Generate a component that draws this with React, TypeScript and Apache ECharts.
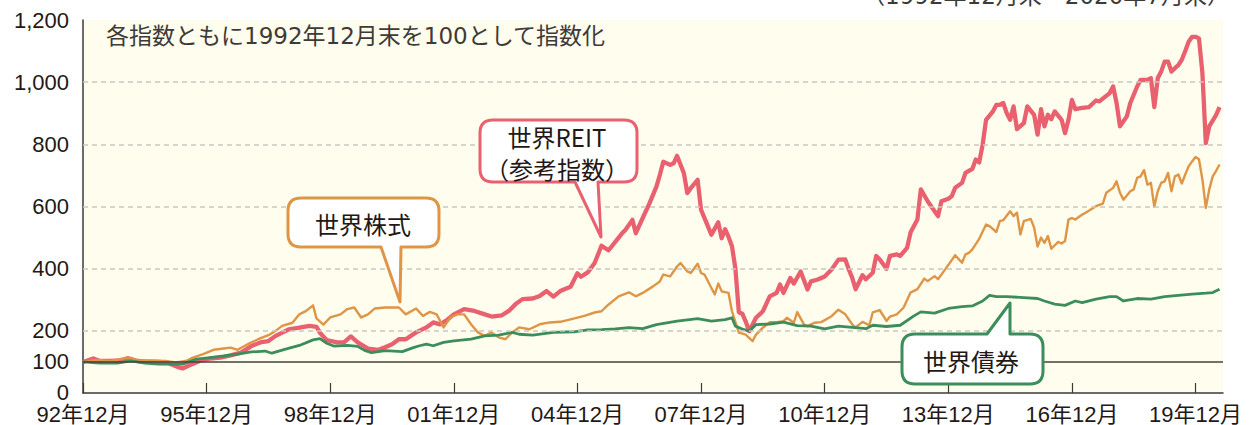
import React, { useEffect, useRef } from "react";
import * as echarts from "echarts";

// x axis: months elapsed since 1992年12月末
const tickMonths = [0, 36, 72, 108, 144, 180, 216, 252, 288, 324];
const yLabelValues = [0, 100, 200, 400, 600, 800, 1000, 1200];
const gridValues = [200, 400, 600, 800, 1000];
const baseValue = 100;

const reitMonths = [0, 3, 5, 8, 11, 13, 16, 19, 22, 25, 28, 29, 31, 34, 37, 40, 43, 46, 49, 52, 54, 56, 58, 60, 63, 66, 68, 69, 71, 74, 76, 78, 80, 83, 86, 88, 90, 92, 94, 97, 100, 102, 104, 106, 108, 111, 114, 117, 119, 122, 124, 126, 128, 131, 133, 135, 137, 139, 142, 144, 145, 147, 149, 151, 153, 154, 156, 157, 158, 160, 161, 163, 165, 167, 168, 169, 171, 172, 173, 175, 176, 177, 179, 180, 182, 183, 185, 186, 187, 188, 189, 190, 191, 192, 193, 194, 196, 198, 200, 202, 203, 204, 206, 207, 209, 211, 212, 214, 216, 218, 220, 222, 223, 224, 225, 227, 228, 230, 231, 232, 234, 235, 237, 238, 240, 241, 243, 244, 246, 247, 249, 250, 252, 253, 254, 256, 257, 259, 260, 261, 262, 263, 265, 266, 267, 268, 269, 270, 271, 272, 274, 275, 277, 278, 279, 280, 281, 282, 283, 285, 286, 287, 288, 289, 291, 293, 295, 296, 298, 299, 300, 301, 302, 304, 305, 307, 308, 310, 311, 312, 313, 314, 315, 316, 317, 318, 319, 320, 321, 322, 323, 324, 325, 326, 327, 328, 329, 330, 331];
const reitValues = [100, 111, 103, 103, 105, 112, 103, 100, 100, 96, 82, 79, 89, 103, 111, 114, 121, 130, 151, 164, 167, 183, 194, 205, 210, 216, 213, 194, 170, 163, 163, 182, 163, 143, 139, 147, 157, 173, 173, 195, 211, 227, 221, 235, 253, 270, 264, 253, 246, 250, 264, 286, 302, 304, 312, 328, 310, 328, 342, 385, 374, 388, 418, 474, 459, 472, 500, 514, 525, 557, 514, 563, 611, 664, 702, 744, 734, 739, 763, 707, 643, 659, 686, 589, 536, 509, 549, 498, 527, 502, 472, 400, 260, 255, 230, 199, 242, 263, 311, 322, 349, 322, 370, 352, 391, 333, 359, 365, 375, 397, 429, 430, 398, 371, 334, 379, 366, 387, 441, 430, 400, 441, 446, 441, 467, 516, 558, 655, 617, 601, 569, 617, 625, 633, 660, 676, 708, 721, 751, 742, 799, 879, 906, 927, 927, 933, 901, 879, 922, 849, 868, 922, 895, 831, 913, 858, 895, 881, 906, 879, 836, 879, 943, 913, 917, 920, 941, 938, 956, 965, 986, 933, 858, 890, 933, 986, 1007, 1007, 1013, 920, 1013, 1034, 1066, 1066, 1034, 1045, 1055, 1072, 1100, 1130, 1146, 1146, 1141, 1030, 804, 858, 876, 895, 920];

const stockMonths = [0, 4, 8, 13, 16, 20, 24, 27, 30, 32, 35, 38, 41, 43, 45, 48, 51, 54, 56, 58, 61, 63, 65, 67, 68, 70, 72, 75, 77, 79, 81, 83, 85, 88, 92, 94, 97, 99, 101, 103, 105, 107, 109, 111, 113, 115, 117, 119, 121, 123, 125, 127, 130, 133, 136, 139, 142, 146, 149, 151, 153, 156, 159, 161, 163, 166, 168, 169, 171, 173, 174, 176, 177, 179, 180, 181, 183, 184, 185, 186, 188, 189, 191, 193, 195, 196, 198, 200, 202, 204, 205, 207, 208, 210, 211, 213, 215, 218, 220, 222, 224, 225, 227, 229, 230, 232, 234, 235, 237, 239, 241, 243, 245, 246, 248, 249, 251, 254, 256, 257, 258, 259, 261, 263, 264, 266, 267, 268, 270, 271, 272, 273, 274, 276, 277, 278, 279, 280, 281, 282, 284, 285, 286, 287, 288, 289, 291, 292, 295, 297, 298, 300, 301, 302, 303, 305, 306, 307, 308, 309, 310, 311, 312, 313, 314, 315, 316, 317, 318, 319, 320, 321, 322, 323, 324, 325, 326, 327, 328, 329, 330, 331];
const stockValues = [100, 106, 103, 114, 105, 105, 103, 98, 103, 114, 125, 139, 143, 146, 139, 157, 173, 186, 199, 216, 226, 253, 264, 282, 240, 220, 243, 253, 270, 275, 243, 253, 272, 275, 275, 253, 272, 248, 261, 253, 211, 243, 253, 253, 221, 195, 184, 195, 179, 173, 195, 211, 205, 221, 227, 229, 237, 248, 259, 263, 284, 311, 324, 311, 322, 343, 359, 381, 375, 407, 418, 391, 386, 416, 386, 381, 338, 317, 352, 327, 322, 263, 194, 188, 167, 188, 210, 228, 228, 231, 242, 226, 260, 220, 215, 226, 228, 247, 268, 253, 221, 211, 229, 218, 259, 267, 232, 246, 253, 275, 323, 334, 368, 360, 376, 366, 396, 443, 419, 446, 451, 462, 496, 542, 537, 518, 553, 556, 585, 569, 580, 510, 553, 560, 532, 471, 500, 483, 505, 464, 486, 481, 489, 558, 563, 558, 574, 580, 601, 609, 644, 660, 681, 644, 622, 649, 655, 692, 697, 717, 670, 676, 599, 649, 676, 681, 708, 649, 697, 703, 674, 703, 729, 745, 759, 752, 687, 596, 655, 697, 715, 735];

const bondMonths = [0, 5, 10, 14, 18, 22, 26, 29, 33, 37, 41, 45, 49, 53, 55, 59, 63, 67, 69, 71, 73, 77, 80, 82, 84, 88, 93, 96, 98, 100, 102, 105, 108, 113, 117, 121, 125, 127, 131, 137, 143, 147, 151, 155, 159, 163, 167, 173, 179, 183, 187, 189, 190, 192, 194, 196, 200, 204, 208, 212, 216, 220, 224, 228, 230, 234, 238, 242, 244, 248, 252, 256, 259, 262, 264, 266, 269, 274, 278, 280, 283, 286, 289, 291, 295, 299, 301, 303, 307, 311, 315, 319, 323, 327, 329, 331];
const bondValues = [100, 96, 96, 103, 96, 93, 93, 93, 109, 114, 119, 125, 132, 135, 128, 141, 153, 171, 175, 160, 151, 153, 150, 137, 130, 136, 133, 145, 152, 157, 152, 163, 168, 173, 184, 186, 195, 189, 186, 195, 197, 203, 204, 206, 210, 207, 220, 231, 239, 231, 236, 242, 215, 206, 199, 220, 222, 228, 217, 215, 206, 215, 211, 207, 218, 214, 218, 248, 261, 257, 272, 278, 280, 296, 314, 310, 310, 307, 304, 296, 286, 282, 296, 291, 302, 310, 310, 296, 304, 302, 310, 314, 318, 321, 323, 334];

const seriesNames = ["世界REIT", "世界株式", "世界債券"];
const reitSubName = "（参考指数）";
const noteText = "各指数ともに1992年12月末を100として指数化";
const periodText = "（1992年12月末～2020年7月末）";

const RED = "#E9606F";
const ORANGE = "#DF9546";
const GREEN = "#3B8E5C";
const INK = "#231815";
const JP = "'Noto Sans CJK JP', sans-serif";
const WIDE = "'DejaVu Sans', 'Noto Sans CJK JP', sans-serif";
const NUM = "'Liberation Sans', 'Noto Sans CJK JP', sans-serif";

function calloutDown(x: number, y: number, w: number, h: number, r: number, b1: number, b2: number, tx: number, ty: number) {
  const b = y + h;
  return `M${x + r} ${y} L${x + w - r} ${y} Q${x + w} ${y} ${x + w} ${y + r} L${x + w} ${b - r} Q${x + w} ${b} ${x + w - r} ${b} L${b2} ${b} L${tx} ${ty} L${b1} ${b} L${x + r} ${b} Q${x} ${b} ${x} ${b - r} L${x} ${y + r} Q${x} ${y} ${x + r} ${y} Z`;
}
function calloutUp(x: number, y: number, w: number, h: number, r: number, b1: number, b2: number, tx: number, ty: number) {
  const b = y + h;
  return `M${x + r} ${y} L${b1} ${y} L${tx} ${ty} L${b2} ${y} L${x + w - r} ${y} Q${x + w} ${y} ${x + w} ${y + r} L${x + w} ${b - r} Q${x + w} ${b} ${x + w - r} ${b} L${x + r} ${b} Q${x} ${b} ${x} ${b - r} L${x} ${y + r} Q${x} ${y} ${x + r} ${y} Z`;
}

echarts.graphic.registerShape("calloutStock", echarts.graphic.extendPath(calloutDown(288, 198, 151, 49, 13, 381, 401, 400, 302), {}) as any);
echarts.graphic.registerShape("calloutReit", echarts.graphic.extendPath(calloutDown(480, 120, 157, 62, 13, 575, 598, 601, 237), {}) as any);
echarts.graphic.registerShape("calloutBond", echarts.graphic.extendPath(calloutUp(902, 334, 141, 50, 13, 987, 1010, 1010, 303), {}) as any);

function pairs(ms: number[], vs: number[]) {
  return ms.map((m, i) => [m, vs[i]]);
}

export default function App() {
  const ref = useRef<HTMLDivElement>(null);
  useEffect(() => {
    if (!ref.current) return;
    const chart = echarts.init(ref.current, undefined, { renderer: "svg" });
    const lineBase = { type: "line" as const, showSymbol: false, symbol: "none", silent: true, z: 3 };
    chart.setOption({
      animation: false,
      grid: { left: 83, right: 28, top: 20, bottom: 31, show: true, backgroundColor: "#FFFDEE", borderWidth: 0 },
      xAxis: {
        type: "value",
        min: 0,
        max: 332,
        interval: 36,
        axisLine: { show: true, lineStyle: { color: "#3E3A39", width: 1.5 } },
        axisTick: { show: true, inside: true, length: 10, customValues: tickMonths, lineStyle: { color: "#3E3A39", width: 1.2 } },
        axisLabel: {
          customValues: tickMonths,
          margin: 10,
          fontSize: 22,
          fontFamily: NUM,
          color: INK,
          formatter: (v: number) => {
            const yr = Math.round(1992 + v / 12) % 100;
            return `${String(yr).padStart(2, "0")}年12月`;
          },
        },
        splitLine: { show: false },
      },
      yAxis: {
        type: "value",
        min: 0,
        max: 1200,
        interval: 100,
        axisLine: { show: true, lineStyle: { color: "#3E3A39", width: 1.5 } },
        axisTick: { show: false },
        axisLabel: {
          customValues: yLabelValues,
          margin: 14,
          fontSize: 22,
          fontFamily: NUM,
          color: INK,
          formatter: (v: number) => v.toLocaleString("en-US"),
        },
        splitLine: { show: false },
      },
      series: [
        {
          type: "line",
          data: [],
          z: 1,
          silent: true,
          markLine: {
            silent: true,
            symbol: ["none", "none"],
            label: { show: false },
            data: [
              ...gridValues.map((v) => ({ yAxis: v, lineStyle: { color: "#C9C7C0", type: [5, 4], width: 1.5 } })),
              { yAxis: baseValue, lineStyle: { color: "#4A403B", type: "solid", width: 1.6 } },
            ],
          },
        },
        { ...lineBase, name: seriesNames[0], data: pairs(reitMonths, reitValues), lineStyle: { color: RED, width: 4.3, join: "round" }, itemStyle: { color: RED } },
        { ...lineBase, name: seriesNames[1], data: pairs(stockMonths, stockValues), lineStyle: { color: ORANGE, width: 2.4, join: "round" }, itemStyle: { color: ORANGE } },
        { ...lineBase, name: seriesNames[2], data: pairs(bondMonths, bondValues), lineStyle: { color: GREEN, width: 2.8, join: "round" }, itemStyle: { color: GREEN } },
      ],
      graphic: [
        { type: "text", left: 106, top: 24, z: 10, style: { text: noteText, font: `23px ${WIDE}`, fill: "#3E3A39" } },
        { type: "text", x: 1230, y: -4, z: 10, style: { text: periodText, font: `23px ${WIDE}`, fill: "#3E3A39", textAlign: "right", textVerticalAlign: "middle" } },
        { type: "calloutStock", z: 20, style: { fill: "#FFFFFF", stroke: ORANGE, lineWidth: 3, lineJoin: "round" } },
        { type: "text", x: 363, y: 223, z: 21, style: { text: seriesNames[1], font: `24px ${JP}`, fill: INK, textAlign: "center", textVerticalAlign: "middle" } },
        { type: "calloutReit", z: 20, style: { fill: "#FFFFFF", stroke: RED, lineWidth: 3, lineJoin: "round" } },
        { type: "text", x: 557, y: 136, z: 21, style: { text: seriesNames[0], font: `24px ${JP}`, fill: INK, textAlign: "center", textVerticalAlign: "middle", lineHeight: 24 } },
        { type: "text", x: 557, y: 168, z: 21, style: { text: reitSubName, font: `24px ${JP}`, fill: INK, textAlign: "center", textVerticalAlign: "middle", lineHeight: 24 } },
        { type: "calloutBond", z: 20, style: { fill: "#FFFFFF", stroke: GREEN, lineWidth: 3, lineJoin: "round" } },
        { type: "text", x: 971, y: 360, z: 21, style: { text: seriesNames[2], font: `24px ${JP}`, fill: INK, textAlign: "center", textVerticalAlign: "middle" } },
      ],
    });
    return () => chart.dispose();
  }, []);
  return <div ref={ref} style={{ position: "fixed", left: 0, top: 0, width: 1251, height: 425, background: "#FFFFFF" }} />;
}
